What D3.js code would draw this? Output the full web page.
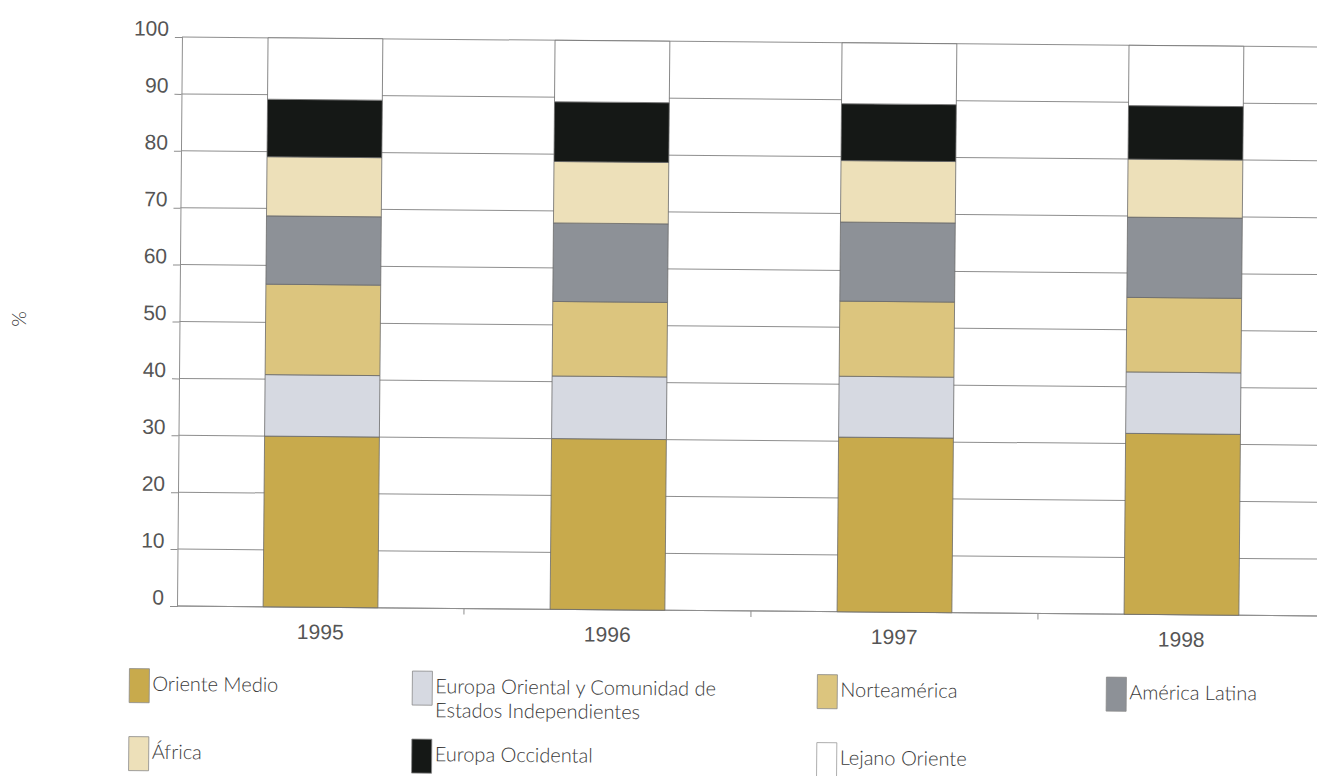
<!DOCTYPE html>
<html>
<head>
<meta charset="utf-8">
<script src="https://cdn.jsdelivr.net/npm/d3@7"></script>
<style>
  html, body { margin: 0; padding: 0; background: #fff; }
  svg { display: block; font-family: "Lato Light", Lato, "Open Sans", "DejaVu Sans", sans-serif; }
</style>
</head>
<body>
<svg id="chart" width="1317" height="776"></svg>
<script>
// ---- data ----
const years = ["1995", "1996", "1997", "1998"];
const orienteMedio      = [30.0, 30.0, 30.7, 31.8];
const europaOriental    = [10.8, 11.0, 10.7, 10.8];
const norteamerica      = [15.9, 13.1, 13.2, 13.1];
const americaLatina     = [12.0, 13.8, 13.9, 14.1];
const africa            = [10.4, 10.8, 10.8, 10.2];
const europaOccidental  = [10.1, 10.5, 10.0, 9.4];
const lejanoOriente     = [10.8, 10.8, 10.7, 10.6];
const yTicks = [0, 10, 20, 30, 40, 50, 60, 70, 80, 90, 100];
const seriesNames = ["Oriente Medio", "Europa Oriental y Comunidad de Estados Independientes",
  "Norteamérica", "América Latina", "África", "Europa Occidental", "Lejano Oriente"];
const seriesValues = [orienteMedio, europaOriental, norteamerica, americaLatina,
  africa, europaOccidental, lejanoOriente];
const seriesColors = ["#c8aa4c", "#d6d9e1", "#dcc57e", "#8d9197", "#ede0b9", "#151816", "#ffffff"];

// ---- layout ----
const x0 = 177, yBase = 606, yTop = 37;
const svg = d3.select("#chart");
const g = svg.append("g").attr("transform", `rotate(0.5, ${x0}, ${yBase})`);

const x = d3.scaleBand().domain(years).range([x0, 1325]).paddingInner(0.6).paddingOuter(0.3);
const y = d3.scaleLinear().domain([0, 100]).range([yBase, yTop]);

// gridlines
g.append("g").selectAll("line").data(yTicks).join("line")
  .attr("x1", x0).attr("x2", 1340)
  .attr("y1", d => y(d)).attr("y2", d => y(d))
  .attr("stroke", "#8e8e8e").attr("stroke-width", 1);

// y axis
const yAxis = g.append("g").attr("transform", `translate(${x0},0)`)
  .call(d3.axisLeft(y).tickValues(yTicks).tickSize(7).tickPadding(6));
yAxis.select(".domain").attr("stroke", "#8e8e8e");
yAxis.selectAll(".tick line").attr("stroke", "#8e8e8e");
yAxis.selectAll(".tick text").attr("font-size", 21).attr("font-weight", 300)
  .attr("fill", "#555").attr("dy", "-0.08em");

// x axis
const step = x.step();
const xAxis = g.append("g").attr("transform", `translate(0,${yBase})`)
  .call(d3.axisBottom(x).tickSize(0).tickPadding(17));
xAxis.select(".domain").remove();
g.append("line").attr("x1", x0).attr("x2", 1340).attr("y1", yBase).attr("y2", yBase)
  .attr("stroke", "#8e8e8e");
xAxis.selectAll(".tick text").attr("font-size", 21).attr("font-weight", 300).attr("fill", "#555");
// category separators
g.append("g").selectAll("line").data(years.slice(1)).join("line")
  .attr("x1", d => x(d) - step * x.paddingInner() / 2)
  .attr("x2", d => x(d) - step * x.paddingInner() / 2)
  .attr("y1", yBase).attr("y2", yBase + 6)
  .attr("stroke", "#8e8e8e");

// stacked bars
const table = years.map((yr, i) => {
  const row = { year: yr };
  seriesNames.forEach((n, k) => row[n] = seriesValues[k][i]);
  return row;
});
const stacked = d3.stack().keys(seriesNames)(table);
g.append("g").selectAll("g").data(stacked).join("g")
  .attr("fill", (d, i) => seriesColors[i])
  .selectAll("rect").data(d => d).join("rect")
  .attr("x", d => x(d.data.year))
  .attr("width", x.bandwidth())
  .attr("y", d => y(d[1]))
  .attr("height", d => y(d[0]) - y(d[1]))
  .attr("stroke", "#6a6a6a")
  .attr("stroke-width", 0.8);

// legend
const legendCols = [130, 413, 818, 1107];
const legendRows = [669, 737];
const legend = g.append("g");
const legendLines = [["Oriente Medio"], ["Europa Oriental y Comunidad de", "Estados Independientes"],
  ["Norteamérica"], ["América Latina"], ["África"], ["Europa Occidental"], ["Lejano Oriente"]];
seriesNames.forEach((n, k) => {
  const cx = legendCols[k % 4], ry = legendRows[Math.floor(k / 4)];
  legend.append("rect").attr("x", cx).attr("y", ry).attr("width", 20).attr("height", 34)
    .attr("fill", seriesColors[k]).attr("stroke", k === 6 ? "#9a9a9a" : "#8a8a8a").attr("stroke-width", 0.8);
  const t = legend.append("text").attr("x", cx + 23).attr("y", ry + 22)
    .attr("font-size", 20).attr("font-weight", 300).attr("fill", "#3a3a3a");
  legendLines[k].forEach((line, j) => {
    t.append("tspan").attr("x", cx + 23).attr("dy", j === 0 ? 0 : 24).text(line);
  });
});

// y title
svg.append("text").attr("transform", "translate(26,319) rotate(-90)")
  .attr("text-anchor", "middle").attr("font-size", 20).attr("fill", "#333").text("%");
</script>
</body>
</html>
